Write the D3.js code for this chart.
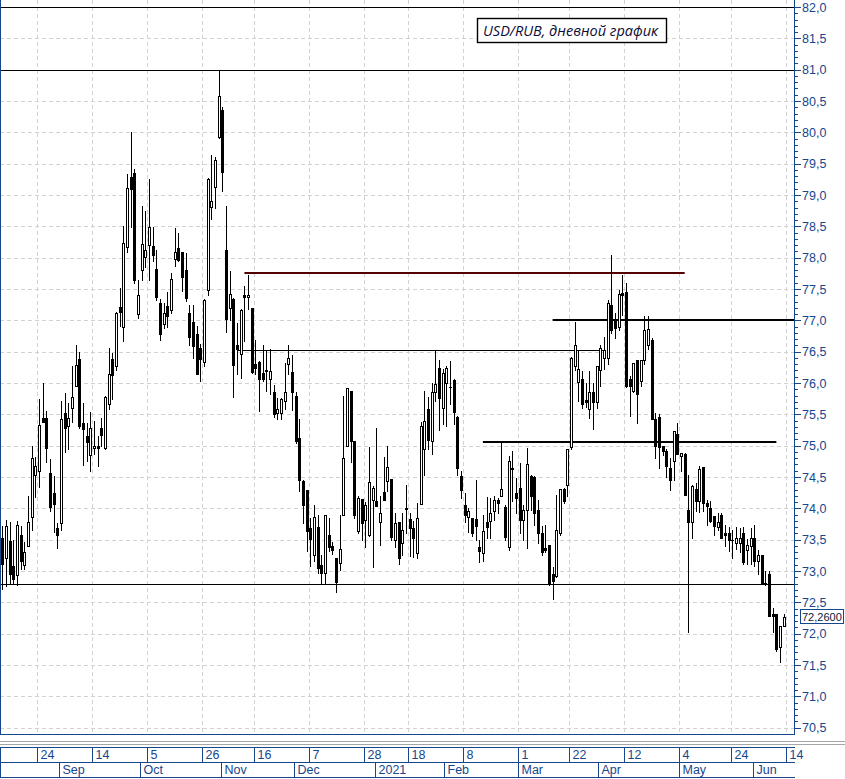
<!DOCTYPE html>
<html><head><meta charset="utf-8">
<script src="https://cdn.jsdelivr.net/npm/d3@7"></script>
<style>body{margin:0;background:#fff} svg{display:block}</style>
</head><body><svg id="c" width="845" height="779"></svg>
<script>
// ---- data: daily USD/RUB candles (one per trading day) ----
const openV=[73.52,73.20,73.48,73.08,72.94,73.57,73.10,73.40,73.87,74.54,
74.60,75.44,75.44,74.57,74.25,73.68,73.76,75.52,75.32,75.60,
75.96,76.39,75.36,75.15,74.85,74.97,74.99,75.29,74.97,75.67,
76.39,76.27,77.22,76.90,78.17,79.29,79.35,77.10,77.80,78.01,
78.20,78.19,77.82,77.28,76.94,77.23,77.16,77.98,78.16,78.09,
77.80,77.12,76.98,76.79,76.56,76.33,77.49,78.81,79.12,79.92,
80.35,78.13,77.20,77.34,76.61,76.47,77.40,77.37,77.20,76.31,
76.33,76.16,76.20,76.07,75.86,75.52,75.52,75.71,76.31,76.18,
75.80,75.13,74.44,74.29,73.69,73.26,73.71,73.10,72.97,73.58,
73.40,73.21,73.13,73.90,75.00,75.87,75.08,73.64,74.15,73.81,
73.57,74.13,74.11,73.78,74.26,74.43,74.47,73.50,73.78,73.45,
74.01,73.83,73.69,73.28,74.07,74.94,75.58,75.07,75.86,76.24,
75.60,76.00,75.94,76.05,75.46,74.52,74.06,73.87,73.85,73.83,
73.39,73.29,73.78,73.80,73.96,74.13,74.19,74.02,73.39,74.65,
74.25,74.33,73.81,73.97,74.51,74.50,73.98,73.61,73.36,73.41,
72.95,72.92,73.61,74.31,74.38,74.98,76.27,76.01,76.07,75.73,
75.59,75.85,75.69,76.20,76.40,76.40,77.25,76.99,76.90,77.43,
77.45,76.07,75.87,76.37,76.03,76.36,76.61,76.69,75.43,75.46,
74.99,74.91,74.65,74.75,75.18,74.84,74.86,73.97,73.78,74.31,
74.12,74.66,74.09,74.01,73.88,73.71,73.90,73.60,73.61,73.50,
73.45,73.45,73.61,73.34,73.40,73.52,73.16,73.25,72.81,72.96,
72.31,72.31,71.78,72.12];
const highV=[73.72,73.82,73.78,73.50,73.80,73.72,73.47,74.20,75.00,74.82,
75.74,76.00,75.55,74.79,74.51,73.77,75.72,75.84,75.68,76.27,
76.60,76.50,75.68,75.36,75.53,75.39,75.15,75.44,75.79,76.56,
76.48,77.13,77.51,78.51,79.33,80.00,79.42,77.65,78.83,78.74,
79.26,78.49,78.13,77.34,77.27,77.45,77.75,78.48,78.39,78.09,
78.08,77.25,77.25,76.91,76.63,77.34,79.27,79.64,79.61,81.00,
80.41,78.83,77.79,77.36,76.95,77.18,77.55,77.73,77.20,76.69,
76.35,76.61,76.53,76.54,75.97,75.76,75.76,76.32,76.60,76.45,
75.85,75.42,74.45,74.29,73.85,74.05,73.89,73.26,73.90,73.84,
73.46,73.21,73.89,75.80,75.92,75.87,75.08,74.20,74.15,74.10,
74.98,74.35,75.28,74.20,74.82,74.99,74.47,73.93,73.78,73.93,
74.38,73.93,73.80,74.09,75.37,75.87,75.78,76.00,76.51,76.36,
76.23,76.27,76.35,76.07,75.47,74.59,74.25,74.01,73.85,74.46,
73.49,73.90,74.18,74.17,74.20,74.17,75.08,74.05,74.83,74.91,
74.49,74.73,74.06,74.97,74.54,74.52,74.14,73.72,73.73,73.41,
73.07,74.22,74.31,74.33,74.95,76.42,76.97,76.51,76.19,76.00,
76.19,76.00,76.27,76.61,76.74,77.33,78.05,77.12,77.49,77.73,
77.60,76.11,76.32,76.37,76.37,77.07,77.07,76.72,75.52,75.50,
75.00,74.94,74.80,75.23,75.36,74.89,74.89,74.54,74.38,74.41,
74.67,74.66,74.14,74.12,73.88,73.93,73.93,73.74,73.71,73.66,
73.71,73.68,73.71,73.51,73.69,73.73,73.33,73.25,73.00,73.00,
72.41,72.31,72.13,72.32];
const lowV=[72.72,72.76,72.80,72.79,72.78,73.03,73.04,73.40,73.66,74.18,
74.34,75.37,74.74,73.95,73.62,73.37,73.65,74.90,74.94,75.37,
75.95,75.29,74.69,74.75,74.60,74.86,74.67,75.00,74.94,75.58,
75.75,76.21,76.91,76.67,78.09,78.49,77.60,77.03,77.65,77.85,
77.65,77.94,77.33,76.68,76.88,76.90,77.12,77.86,77.94,77.47,
77.31,76.60,76.40,76.14,76.03,76.27,77.41,78.61,78.80,79.91,
79.07,76.81,77.00,75.78,76.15,76.08,76.67,77.18,76.16,76.14,
75.55,76.03,75.87,75.82,75.46,75.42,75.42,75.58,76.14,75.57,
75.05,74.27,73.77,73.32,73.08,73.16,72.97,72.81,72.81,73.32,
73.27,72.66,73.02,73.89,75.00,74.74,73.85,73.61,73.50,73.38,
73.56,73.06,74.03,73.41,74.14,74.28,73.50,73.38,73.12,73.26,
73.61,73.24,73.23,73.21,74.07,74.54,74.95,74.86,75.71,75.25,
75.34,75.32,75.66,75.34,74.54,74.17,73.78,73.62,73.56,73.50,
73.15,73.16,73.53,73.52,73.81,73.93,74.19,73.50,73.33,74.12,
73.93,73.61,73.50,73.37,73.98,73.74,73.45,73.25,73.30,72.78,
72.55,72.90,73.58,74.08,74.19,74.95,76.20,75.71,75.60,75.62,
75.44,75.26,75.60,75.95,76.22,76.30,76.80,76.72,76.85,77.09,
75.94,75.48,75.85,75.36,75.95,76.30,76.55,75.43,74.81,74.65,
74.85,74.50,74.30,74.46,74.86,74.59,74.21,72.02,73.53,73.96,
73.94,73.95,73.74,73.78,73.57,73.66,73.53,73.40,73.32,73.21,
73.35,73.30,73.12,73.12,73.12,73.08,72.95,72.79,72.78,72.28,
72.03,71.72,71.55,72.12];
const closeV=[73.12,73.72,72.95,72.88,73.74,73.16,73.31,73.79,74.81,74.67,
75.33,75.38,74.97,74.02,74.07,73.57,75.43,75.29,75.44,75.78,
76.29,75.32,75.27,75.06,75.29,74.99,74.97,75.17,75.77,76.15,
76.12,77.11,77.14,78.24,79.11,79.10,77.64,77.40,78.22,78.13,
78.49,78.04,77.37,76.79,77.12,77.07,77.66,78.09,77.97,77.69,
77.35,76.73,76.59,76.15,76.39,77.33,79.26,78.91,79.56,80.58,
79.36,77.02,77.42,76.29,76.55,77.16,77.37,77.41,76.18,76.24,
76.07,76.07,76.19,76.19,75.50,75.58,75.74,75.86,76.40,75.86,
75.07,74.45,74.05,73.64,73.51,73.87,73.05,72.97,73.89,73.39,
73.34,72.82,73.35,74.81,75.92,75.08,73.89,74.17,73.77,74.05,
74.42,74.33,74.03,73.93,74.14,74.66,73.54,73.76,73.20,73.65,
73.99,73.69,73.52,73.85,75.32,75.39,75.09,75.86,75.98,75.76,
76.16,76.24,75.93,75.54,74.65,74.30,73.89,73.95,73.60,73.72,
73.32,73.64,73.71,73.92,74.14,74.09,74.31,73.55,74.75,74.63,
74.17,73.81,73.98,74.71,74.19,73.92,73.61,73.30,73.34,72.80,
72.84,73.65,74.31,74.11,74.95,76.40,76.60,76.23,75.67,75.69,
75.85,75.69,76.27,76.56,76.53,77.28,76.85,76.88,77.42,77.40,
75.96,75.95,76.32,75.83,76.37,76.85,76.86,75.43,74.99,74.98,
74.91,74.67,74.46,75.23,74.86,74.89,74.22,73.78,74.35,74.12,
74.63,74.09,74.03,73.80,73.72,73.78,73.53,73.57,73.49,73.49,
73.52,73.53,73.14,73.42,73.53,73.16,73.25,72.79,72.80,72.29,
72.28,71.75,72.13,72.26];

// date axis: trading-day index of each labelled day
const dayTickIdx=[10,25,40,55,69,84,99,111,126,141,155,170,185,199,214];
const dayTickLabels=["24","14","5","26","16","7","28","18","8","1","22","12","4","24","14"];
const monthIdx=[16,38,60,80,102,121,141,163,185,205];
const monthLabels=["Sep","Oct","Nov","Dec","2021","Feb","Mar","Apr","May","Jun"];

// horizontal levels drawn across the whole chart
const fullLevels=[82.0,81.0,72.8];
// level segments: value, first and last trading-day index
const segValues=[76.52,77.75,77.0,75.06];
const segFrom=[64,66,150,131];
const segTo=[164,186,216,211];

const yMin=70.5, yMax=82.0, yStep=0.5;
const title="USD/RUB, дневной график";

// ---- drawing ----
const svg=d3.select("#c");
const BLUE="#16468c";
const plotL=0, plotR=794, plotT=0, plotB=734;
const N=openV.length;
const x=d3.scaleLinear().domain([0,N-1]).range([2.3,783.7]);
const y=d3.scaleLinear().domain([yMin,yMax]).range([727.7,7.0]);
const px=v=>Math.round(v)+0.5;
const fmt=d3.format(".1f");
const comma=s=>s.replace(".",",");

svg.append("rect").attr("width",845).attr("height",779).attr("fill","#fff");

// grid
const g=svg.append("g");
const gridVals=d3.range(Math.round(yMin/yStep),Math.round(yMax/yStep)+1).map(k=>k*yStep);
g.selectAll(".hg").data(gridVals).join("line")
 .attr("x1",plotL).attr("x2",plotR).attr("y1",d=>px(y(d))).attr("y2",d=>px(y(d)))
 .attr("stroke","#d2d2d2").attr("stroke-dasharray","4,3");
g.selectAll(".vg").data(dayTickIdx).join("line")
 .attr("x1",d=>px(x(d-0.5))).attr("x2",d=>px(x(d-0.5))).attr("y1",plotT).attr("y2",plotB)
 .attr("stroke","#d2d2d2").attr("stroke-dasharray","4,3");

// full levels
g.selectAll(".fl").data(fullLevels).join("line")
 .attr("x1",plotL).attr("x2",plotR).attr("y1",d=>px(y(d))).attr("y2",d=>px(y(d)))
 .attr("stroke","#000").attr("stroke-width",1);

// segments
const segStroke=["#000","#550000","#000","#000"];
const segWidth=[1,2,2,2];
segValues.forEach((v,i)=>{
  const yy=segWidth[i]===2?Math.round(y(v)):px(y(v));
  g.append("line").attr("x1",Math.max(plotL,x(segFrom[i]))).attr("x2",Math.min(plotR,x(segTo[i])))
   .attr("y1",yy).attr("y2",yy).attr("stroke",segStroke[i]).attr("stroke-width",segWidth[i]);
});

// candles
const cg=svg.append("g").attr("shape-rendering","crispEdges");
d3.range(N).forEach(i=>{
  const cx=Math.round(x(i));
  const o=openV[i], c=closeV[i], h=highV[i], l=lowV[i];
  cg.append("line").attr("x1",cx+0.5).attr("x2",cx+0.5)
    .attr("y1",Math.round(y(h))).attr("y2",Math.round(y(l))+1).attr("stroke","#000");
  const top=Math.round(y(Math.max(o,c))), bot=Math.round(y(Math.min(o,c)));
  if(c>=o){
    cg.append("rect").attr("x",cx-0.5).attr("y",top+0.5).attr("width",2).attr("height",Math.max(1,bot-top))
      .attr("fill","#fff").attr("stroke","#000").attr("stroke-width",1);
  } else {
    cg.append("rect").attr("x",cx-1).attr("y",top).attr("width",3).attr("height",Math.max(1,bot-top+1))
      .attr("fill","#000");
  }
});

// plot frame (left + bottom) and right axis
const fr=svg.append("g").attr("shape-rendering","crispEdges");
fr.append("line").attr("x1",0.5).attr("x2",0.5).attr("y1",0).attr("y2",plotB).attr("stroke",BLUE).attr("stroke-width",1.5);
fr.append("line").attr("x1",0).attr("x2",plotR+1).attr("y1",plotB+0.5).attr("y2",plotB+0.5).attr("stroke",BLUE).attr("stroke-width",1.5);
fr.append("line").attr("x1",plotR+0.5).attr("x2",plotR+0.5).attr("y1",0).attr("y2",plotB+1).attr("stroke",BLUE).attr("stroke-width",1.5);

const minorVals=d3.range(Math.round(yMin*10),Math.round(yMax*10)+1).map(k=>k/10);
fr.selectAll(".mt").data(minorVals).join("line")
 .attr("x1",plotR).attr("x2",d=>plotR+(Math.round(d*10)%5===0?7:4))
 .attr("y1",d=>px(y(d))).attr("y2",d=>px(y(d))).attr("stroke",BLUE);
svg.selectAll(".yl").data(gridVals).join("text")
 .attr("x",802).attr("y",d=>y(d)).attr("dy","0.36em")
 .attr("font-family","Liberation Sans, Arial, sans-serif").attr("font-size",12.5)
 .attr("fill",BLUE).text(d=>comma(fmt(d)));

// last value box
const last=closeV[N-1];
const ly=Math.round(y(last));
svg.append("rect").attr("x",800.5).attr("y",ly-7.5).attr("width",43).attr("height",14)
 .attr("fill","#fff").attr("stroke",BLUE).attr("stroke-width",1);
svg.append("text").attr("x",802).attr("y",ly).attr("dy","0.36em")
 .attr("font-family","Liberation Sans, Arial, sans-serif").attr("font-size",11)
 .attr("fill","#0a1a3a").text(comma(d3.format(".4f")(last)));

// bottom date axis
const ax=svg.append("g").attr("shape-rendering","crispEdges");
ax.append("line").attr("x1",0).attr("x2",845).attr("y1",741.5).attr("y2",741.5).attr("stroke","#a6a6a6").attr("stroke-width",1.5);
ax.append("line").attr("x1",0).attr("x2",845).attr("y1",744.5).attr("y2",744.5).attr("stroke","#a6a6a6").attr("stroke-width",1.5);
const r1=747, r2=762, r3=777;
[r1,r2,r3].forEach(yy=>ax.append("line").attr("x1",0).attr("x2",plotR+1).attr("y1",yy+0.5).attr("y2",yy+0.5).attr("stroke",BLUE).attr("stroke-width",1.5));
ax.append("line").attr("x1",0.5).attr("x2",0.5).attr("y1",r1).attr("y2",r3).attr("stroke",BLUE).attr("stroke-width",1.5);
dayTickIdx.forEach((d,i)=>{
  const xx=px(x(d-0.5));
  ax.append("line").attr("x1",xx).attr("x2",xx).attr("y1",r1).attr("y2",r2).attr("stroke",BLUE).attr("stroke-width",1.5);
  svg.append("text").attr("x",xx+3).attr("y",r2-3).attr("font-family","Liberation Sans, Arial, sans-serif")
   .attr("font-size",12.5).attr("fill",BLUE).text(dayTickLabels[i]);
});
monthIdx.forEach((d,i)=>{
  const xx=px(x(d-0.5));
  ax.append("line").attr("x1",xx).attr("x2",xx).attr("y1",r2).attr("y2",r3).attr("stroke",BLUE).attr("stroke-width",1.5);
  svg.append("text").attr("x",xx+3).attr("y",r3-3).attr("font-family","Liberation Sans, Arial, sans-serif")
   .attr("font-size",12.5).attr("fill",BLUE).text(monthLabels[i]);
});

// title box
svg.append("rect").attr("x",477.5).attr("y",18.5).attr("width",189).attr("height",24)
 .attr("fill","#fff").attr("stroke","#000").attr("stroke-width",1.4);
svg.append("text").attr("x",483).attr("y",35.5).attr("font-family","Open Sans, Noto Sans, sans-serif")
 .attr("font-style","italic").attr("font-size",14.5).attr("fill","#0c0c36").text(title);
</script></body></html>
